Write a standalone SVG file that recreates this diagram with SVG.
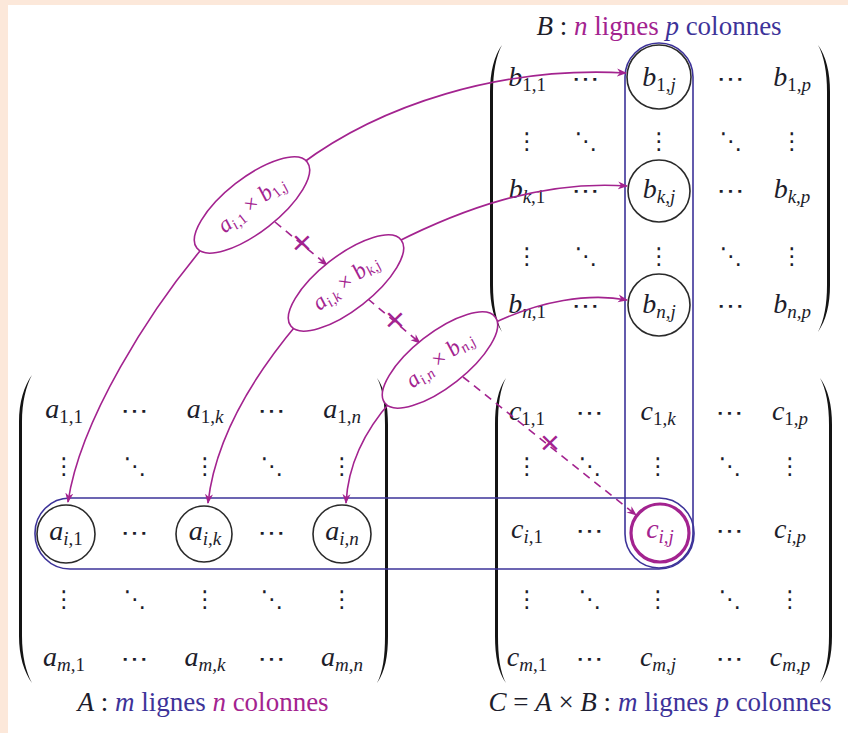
<svg xmlns="http://www.w3.org/2000/svg" width="848" height="733" viewBox="0 0 848 733">
<defs>
<style>
.e{font-family:'Liberation Serif','Times New Roman','DejaVu Serif',serif;font-style:italic;font-size:28px;fill:#1d1d2b;text-anchor:middle}
.s{font-size:19px}
.u{font-style:normal}
.d{font-family:'DejaVu Sans',sans-serif;font-size:23px;fill:#1d1d2b;text-anchor:middle}
.c{font-family:'DejaVu Sans',sans-serif;font-size:21px;fill:#1d1d2b;text-anchor:middle}
.par{fill:#141414;stroke:none}
.blue{fill:none;stroke:#3d3399;stroke-width:1.6}
.circ{fill:none;stroke:#2a2a2a;stroke-width:1.6}
.pc{fill:none;stroke:#a3238f;stroke-width:1.6}
.dash{fill:none;stroke:#a3238f;stroke-width:1.6;stroke-dasharray:8 6}
.el{fill:#fff;stroke:#a3238f;stroke-width:1.6}
.et{font-family:'Liberation Serif','Times New Roman','DejaVu Serif',serif;font-style:italic;font-size:23px;fill:#a3238f;text-anchor:middle}
.x{font-family:'Liberation Sans',sans-serif;font-size:34px;fill:#a3238f;text-anchor:middle}
.t{font-family:'Liberation Serif','Times New Roman','DejaVu Serif',serif;font-size:27px;text-anchor:middle;fill:#1d1d2b}
.i{font-style:italic}
.pu{fill:#a3238f}
.bl{fill:#3d3399}
</style>
<marker id="ap" viewBox="0 0 10 10" refX="9" refY="5" markerWidth="10" markerHeight="10" markerUnits="userSpaceOnUse" orient="auto"><path d="M0,1 L10,5 L0,9 L3,5 z" fill="#a3238f"/></marker>
</defs>
<rect x="0" y="0" width="848" height="733" fill="#fce8da"/>
<rect x="8" y="5" width="840" height="728" fill="#ffffff"/>

<g id="parens">
<path class="par" d="M502,45 C494,56 490,72 490,92 L490,285 C490,305 494,320 502,332 C496,320 493,305 493,285 L493,92 C493,72 496,56 502,45 Z"/>
<path class="par" d="M818,45 C826,56 830,72 830,92 L830,285 C830,305 826,320 818,332 C824,320 827,305 827,285 L827,92 C827,72 824,56 818,45 Z"/>
<path class="par" d="M32,375 C24,386 19,402 19,422 L19,636 C19,656 24,672 32,683 C26,672 22,656 22,636 L22,422 C22,402 26,386 32,375 Z"/>
<path class="par" d="M377,378 C385,389 388,405 388,425 L388,636 C388,656 385,672 377,683 C383,672 385,656 385,636 L385,425 C385,405 383,389 377,378 Z"/>
<path class="par" d="M506,378 C498,389 495,405 495,425 L495,636 C495,656 498,672 506,683 C500,672 498,656 498,636 L498,425 C498,405 500,389 506,378 Z"/>
<path class="par" d="M820,378 C828,389 832,405 832,425 L832,636 C832,656 828,672 820,683 C826,672 829,656 829,636 L829,425 C829,405 826,389 820,378 Z"/>
</g>

<g id="matB">
<text class="e" x="527" y="86">b<tspan class="s u" dy="5">1,1</tspan></text>
<text class="c" transform="translate(586,86) scale(1.35,1)">⋯</text>
<text class="e" x="659" y="86">b<tspan class="s u" dy="5">1,</tspan><tspan class="s">j</tspan></text>
<text class="c" transform="translate(731,86) scale(1.35,1)">⋯</text>
<text class="e" x="792" y="86">b<tspan class="s u" dy="5">1,</tspan><tspan class="s">p</tspan></text>
<text class="d" x="527" y="149">⋮</text><text class="d" x="586" y="149">⋱</text><text class="d" x="659" y="149">⋮</text><text class="d" x="731" y="149">⋱</text><text class="d" x="792" y="149">⋮</text>
<text class="e" x="527" y="198">b<tspan class="s" dy="5">k</tspan><tspan class="s u">,1</tspan></text>
<text class="c" transform="translate(586,198) scale(1.35,1)">⋯</text>
<text class="e" x="659" y="198">b<tspan class="s" dy="5">k,j</tspan></text>
<text class="c" transform="translate(731,198) scale(1.35,1)">⋯</text>
<text class="e" x="792" y="198">b<tspan class="s" dy="5">k,p</tspan></text>
<text class="d" x="527" y="264">⋮</text><text class="d" x="586" y="264">⋱</text><text class="d" x="659" y="264">⋮</text><text class="d" x="731" y="264">⋱</text><text class="d" x="792" y="264">⋮</text>
<text class="e" x="527" y="313">b<tspan class="s" dy="5">n</tspan><tspan class="s u">,1</tspan></text>
<text class="c" transform="translate(586,313) scale(1.35,1)">⋯</text>
<text class="e" x="659" y="313">b<tspan class="s" dy="5">n,j</tspan></text>
<text class="c" transform="translate(731,313) scale(1.35,1)">⋯</text>
<text class="e" x="792" y="313">b<tspan class="s" dy="5">n,p</tspan></text>
</g>

<g id="matA">
<text class="e" x="64" y="418">a<tspan class="s u" dy="5">1,1</tspan></text>
<text class="c" transform="translate(135,418) scale(1.35,1)">⋯</text>
<text class="e" x="205" y="418">a<tspan class="s u" dy="5">1,</tspan><tspan class="s">k</tspan></text>
<text class="c" transform="translate(272,418) scale(1.35,1)">⋯</text>
<text class="e" x="342" y="418">a<tspan class="s u" dy="5">1,</tspan><tspan class="s">n</tspan></text>
<text class="d" x="64" y="474">⋮</text><text class="d" x="135" y="474">⋱</text><text class="d" x="205" y="474">⋮</text><text class="d" x="272" y="474">⋱</text><text class="d" x="342" y="474">⋮</text>
<text class="e" x="66" y="540">a<tspan class="s" dy="5">i</tspan><tspan class="s u">,1</tspan></text>
<text class="c" transform="translate(135,540) scale(1.35,1)">⋯</text>
<text class="e" x="205" y="540">a<tspan class="s" dy="5">i,k</tspan></text>
<text class="c" transform="translate(272,540) scale(1.35,1)">⋯</text>
<text class="e" x="342" y="540">a<tspan class="s" dy="5">i,n</tspan></text>
<text class="d" x="64" y="607">⋮</text><text class="d" x="135" y="607">⋱</text><text class="d" x="205" y="607">⋮</text><text class="d" x="272" y="607">⋱</text><text class="d" x="342" y="607">⋮</text>
<text class="e" x="64" y="666">a<tspan class="s" dy="5">m</tspan><tspan class="s u">,1</tspan></text>
<text class="c" transform="translate(135,666) scale(1.35,1)">⋯</text>
<text class="e" x="205" y="666">a<tspan class="s" dy="5">m,k</tspan></text>
<text class="c" transform="translate(272,666) scale(1.35,1)">⋯</text>
<text class="e" x="342" y="666">a<tspan class="s" dy="5">m,n</tspan></text>
</g>

<g id="matC">
<text class="e" x="527" y="420">c<tspan class="s u" dy="5">1,1</tspan></text>
<text class="c" transform="translate(590,420) scale(1.35,1)">⋯</text>
<text class="e" x="658" y="420">c<tspan class="s u" dy="5">1,</tspan><tspan class="s">k</tspan></text>
<text class="c" transform="translate(730,420) scale(1.35,1)">⋯</text>
<text class="e" x="790" y="420">c<tspan class="s u" dy="5">1,</tspan><tspan class="s">p</tspan></text>
<text class="d" x="527" y="474">⋮</text><text class="d" x="590" y="474">⋱</text><text class="d" x="658" y="474">⋮</text><text class="d" x="730" y="474">⋱</text><text class="d" x="790" y="474">⋮</text>
<text class="e" x="527" y="538">c<tspan class="s" dy="5">i</tspan><tspan class="s u">,1</tspan></text>
<text class="c" transform="translate(590,538) scale(1.35,1)">⋯</text>
<text class="e pu" x="660" y="538">c<tspan class="s" dy="5">i,j</tspan></text>
<text class="c" transform="translate(730,538) scale(1.35,1)">⋯</text>
<text class="e" x="790" y="538">c<tspan class="s" dy="5">i,p</tspan></text>
<text class="d" x="527" y="607">⋮</text><text class="d" x="590" y="607">⋱</text><text class="d" x="658" y="607">⋮</text><text class="d" x="730" y="607">⋱</text><text class="d" x="790" y="607">⋮</text>
<text class="e" x="527" y="666">c<tspan class="s" dy="5">m</tspan><tspan class="s u">,1</tspan></text>
<text class="c" transform="translate(590,666) scale(1.35,1)">⋯</text>
<text class="e" x="658" y="666">c<tspan class="s" dy="5">m,j</tspan></text>
<text class="c" transform="translate(730,666) scale(1.35,1)">⋯</text>
<text class="e" x="790" y="666">c<tspan class="s" dy="5">m,p</tspan></text>
</g>

<g id="highlights">
<rect class="blue" x="625" y="43" width="68" height="525" rx="34"/>
<rect class="blue" x="35" y="498" width="659" height="71" rx="35"/>
<circle class="circ" cx="659" cy="77" r="32"/>
<circle class="circ" cx="659" cy="191" r="31"/>
<circle class="circ" cx="659" cy="305" r="31"/>
<circle class="circ" cx="66" cy="534" r="29"/>
<circle class="circ" cx="204" cy="534" r="28"/>
<circle class="circ" cx="342" cy="534" r="29"/>
<circle cx="660" cy="533" r="29" fill="none" stroke="#a3238f" stroke-width="3.2"/>
</g>

<g id="connectors">
<path class="pc" marker-end="url(#ap)" d="M300,165 C380,105 500,66 626,73"/>
<path class="pc" marker-end="url(#ap)" d="M205,245 C150,310 80,420 68,502"/>
<path class="pc" marker-end="url(#ap)" d="M395,243 C460,210 540,180 627,186"/>
<path class="pc" marker-end="url(#ap)" d="M298,323 C250,380 215,440 208,503"/>
<path class="pc" marker-end="url(#ap)" d="M490,325 C540,300 590,293 627,300"/>
<path class="pc" marker-end="url(#ap)" d="M392,400 C365,430 348,465 346,503"/>
<path class="dash" marker-end="url(#ap)" d="M275,222 L327,265"/>
<path class="dash" marker-end="url(#ap)" d="M368,299 L420,343"/>
<path class="dash" marker-end="url(#ap)" d="M463,377 L636,515"/>
<text class="x" x="302" y="254">×</text>
<text class="x" x="395" y="331">×</text>
<text class="x" x="550" y="454">×</text>
</g>

<g id="prod1" transform="translate(252,205) rotate(-38)">
<ellipse class="el" rx="70" ry="27"/>
<text class="et" y="6">a<tspan font-size="15" dy="4">i</tspan><tspan font-size="15" class="u">,1</tspan><tspan class="u" dy="-4"> × </tspan>b<tspan font-size="15" class="u" dy="4">1,</tspan><tspan font-size="15">j</tspan></text>
</g>
<g id="prod2" transform="translate(346,283) rotate(-38)">
<ellipse class="el" rx="70" ry="27"/>
<text class="et" y="6">a<tspan font-size="15" dy="4">i,k</tspan><tspan class="u" dy="-4"> × </tspan>b<tspan font-size="15" dy="4">k,j</tspan></text>
</g>
<g id="prod3" transform="translate(440,360) rotate(-38)">
<ellipse class="el" rx="70" ry="27"/>
<text class="et" y="6">a<tspan font-size="15" dy="4">i,n</tspan><tspan class="u" dy="-4"> × </tspan>b<tspan font-size="15" dy="4">n,j</tspan></text>
</g>

<g id="titles">
<text class="t" x="659" y="35"><tspan class="i">B</tspan> : <tspan class="i pu">n</tspan><tspan class="pu"> lignes </tspan><tspan class="i bl">p</tspan><tspan class="bl"> colonnes</tspan></text>
<text class="t" x="203" y="711"><tspan class="i">A</tspan> : <tspan class="i bl">m</tspan><tspan class="bl"> lignes </tspan><tspan class="i pu">n</tspan><tspan class="pu"> colonnes</tspan></text>
<text class="t" x="660" y="711"><tspan class="i">C</tspan> = <tspan class="i">A</tspan> × <tspan class="i">B</tspan> : <tspan class="i bl">m</tspan><tspan class="bl"> lignes </tspan><tspan class="i bl">p</tspan><tspan class="bl"> colonnes</tspan></text>
</g>
</svg>
